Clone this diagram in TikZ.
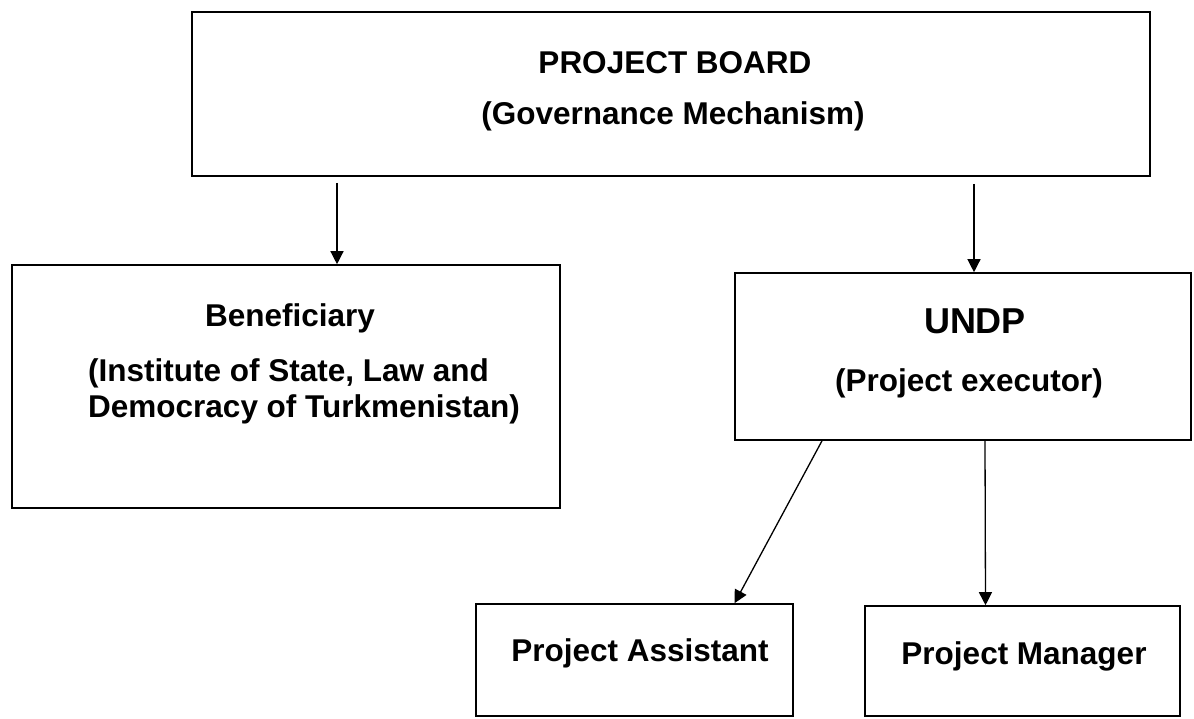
\documentclass[tikz,border=0pt]{standalone}
\usepackage{fontspec}
\setmainfont{Liberation Sans}
\usetikzlibrary{arrows.meta}

\tikzset{
  box/.style={draw, line width=1.6pt, inner sep=0pt},
  txt/.style={inner sep=0pt, font=\bfseries\fontsize{31.5}{36}\selectfont},
  arr/.style={line width=1.3pt, -{Triangle[length=13pt,width=13pt]}}
}

\begin{document}
\begin{tikzpicture}[x=1pt, y=-1pt]
  \useasboundingbox (0,0) rectangle (1194,718);
  % boxes
  \node[box, minimum width=958pt, minimum height=164pt] (board) at (671,94) {};
  \node[box, minimum width=548pt, minimum height=243pt] (benef) at (286,386.5) {};
  \node[box, minimum width=456pt, minimum height=167pt] (undp) at (963,356.5) {};
  \node[box, minimum width=317pt, minimum height=112pt] (assist) at (634.5,660) {};
  \node[box, minimum width=315pt, minimum height=110pt] (manager) at (1022.5,661) {};
  % texts
  \node[txt, anchor=base] (board-t) at (675,73) {PROJECT BOARD};
  \node[txt, anchor=base] (board-s) at (673,124) {(Governance Mechanism)};
  \node[txt, anchor=base] (benef-t) at (290,326) {Beneficiary};
  \node[txt, anchor=north west, align=left] (benef-s) at (88,358)
    {(Institute of State, Law and\\ Democracy of Turkmenistan)};
  \node[txt, anchor=base, font=\bfseries\fontsize{36}{40}\selectfont] (undp-t) at (975,333) {UNDP};
  \node[txt, anchor=base] (undp-s) at (969,391) {(Project executor)};
  \node[txt, anchor=base] (assist-t) at (640,661) {Project Assistant};
  \node[txt, anchor=base] (manager-t) at (1024,664) {Project Manager};
  % arrows
  \draw[arr] ([xshift=-334pt,yshift=-6pt]board.south) -- ([xshift=51pt]benef.north);
  \draw[arr] ([xshift=303pt,yshift=-7pt]board.south) -- ([xshift=11pt]undp.north);
  \draw[arr] ([xshift=-141pt]undp.south) -- ([xshift=100pt]assist.north);
  \draw[arr] ([xshift=22pt]undp.south) -- ([xshift=-37pt]manager.north);
\end{tikzpicture}
\end{document}
